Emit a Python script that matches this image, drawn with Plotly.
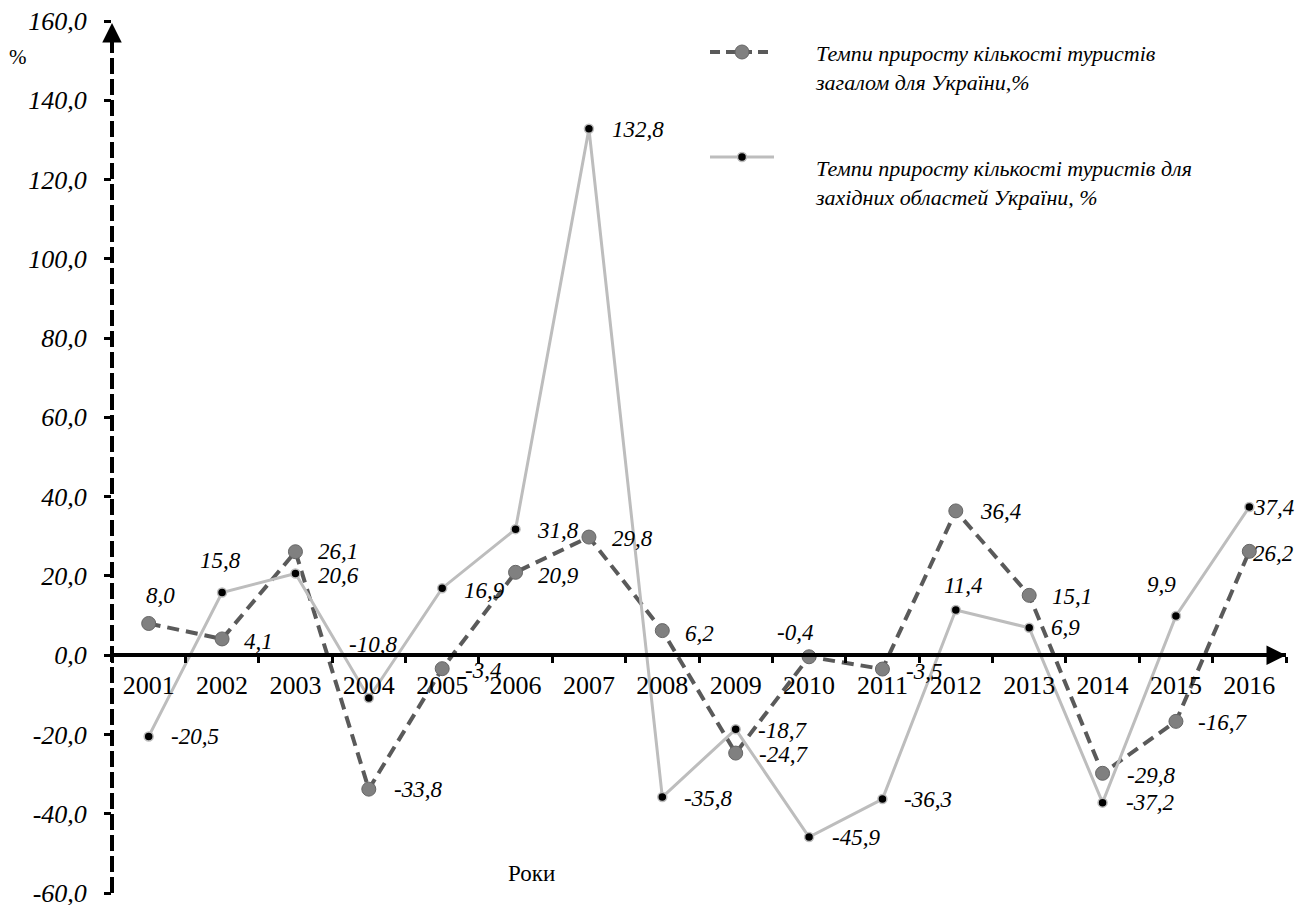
import plotly.graph_objects as go

# ---------------- data ----------------
years = ["2001", "2002", "2003", "2004", "2005", "2006", "2007", "2008",
         "2009", "2010", "2011", "2012", "2013", "2014", "2015", "2016"]
ukraine_total = [8.0, 4.1, 26.1, -33.8, -3.4, 20.9, 29.8, 6.2,
                 -24.7, -0.4, -3.5, 36.4, 15.1, -29.8, -16.7, 26.2]
western_regions = [-20.5, 15.8, 20.6, -10.8, 16.9, 31.8, 132.8, -35.8,
                   -18.7, -45.9, -36.3, 11.4, 6.9, -37.2, 9.9, 37.4]
y_ticks = [-60, -40, -20, 0, 20, 40, 60, 80, 100, 120, 140, 160]
name_total = "Темпи приросту кількості туристів<br>загалом для України,%"
name_west = "Темпи приросту кількості туристів для<br>західних областей України, %"
y_title = "%"
x_title = "Роки"

# ---------------- label offsets (pixels: dx right, dy down) ----------------
off_total = [(12, -28), (36, 3), (43, 0), (49, 0), (41, 2), (43, 3), (44, 1), (37, 3),
             (48, 1), (-14, -24), (42, 2), (45, 1), (43, 1), (48, 2), (47, 1), (24, 2)]
off_west = [(46, 0), (-2, -32), (43, 2), (4, -53), (42, 2), (42, 1), (49, 1), (46, 1),
            (47, 1), (47, 0), (46, 0), (8, -25), (36, 0), (47, 0), (-14, -31), (24, 1)]

SERIF = "Liberation Serif"
# page body has an 8px default margin; compensate so the plot lands where intended
BODY = 8
W, H = 1311 - BODY, 905 - BODY
ML, MR, MT, MB = 112 - BODY, 25, 21 - BODY, 12
YMIN, YMAX = -60, 160


def fmt(v):
    return f"{v:.1f}".replace(".", ",")


def px_x(px):
    return (px - BODY - ML) / (W - ML - MR)


def px_y(py):
    return 1 - (py - BODY - MT) / (H - MT - MB)


DARK_LINE = "#5a5a5a"
DARK_FILL = "#808080"
LIGHT_LINE = "#bdbdbd"

fig = go.Figure()

fig.add_trace(go.Scatter(
    x=years, y=ukraine_total, mode="lines+markers", name=name_total,
    line=dict(color=DARK_LINE, width=4, dash="12px,7px"),
    marker=dict(size=14, color=DARK_FILL, line=dict(color="#666666", width=1)),
    showlegend=False, cliponaxis=False,
))
fig.add_trace(go.Scatter(
    x=years, y=western_regions, mode="lines+markers", name=name_west,
    line=dict(color=LIGHT_LINE, width=3),
    marker=dict(size=9, color="black", line=dict(color=LIGHT_LINE, width=1.5)),
    showlegend=False, cliponaxis=False,
))

annotations = []
label_font = dict(family=SERIF, size=23, color="black", style="italic")
for vals, offs in ((ukraine_total, off_total), (western_regions, off_west)):
    for i, (v, (dx, dy)) in enumerate(zip(vals, offs)):
        annotations.append(dict(
            x=i, y=v, xref="x", yref="y", text=fmt(v), showarrow=False,
            xanchor="center", yanchor="middle", xshift=dx, yshift=-dy,
            font=label_font,
        ))

# axis arrows
annotations.append(dict(
    x=15.5, y=0, xref="x", yref="y", ax=-22, ay=0,
    showarrow=True, arrowhead=2, arrowsize=1.3, arrowwidth=3, arrowcolor="black", text="",
))
annotations.append(dict(
    x=0, y=YMAX - 0.5, xref="paper", yref="y", ax=0, ay=14,
    showarrow=True, arrowhead=2, arrowsize=1.3, arrowwidth=3, arrowcolor="black", text="",
))

# axis titles
annotations.append(dict(
    x=px_x(18), y=px_y(57), xref="paper", yref="paper", text=y_title, showarrow=False,
    xanchor="center", yanchor="middle", font=dict(family=SERIF, size=21, color="black"),
))
annotations.append(dict(
    x=px_x(531), y=px_y(873), xref="paper", yref="paper", text=x_title, showarrow=False,
    xanchor="center", yanchor="middle", font=dict(family=SERIF, size=23, color="black"),
))

# manual legend text
leg_font = dict(family=SERIF, size=22, color="black", style="italic")
annotations.append(dict(
    x=px_x(813), y=px_y(68), xref="paper", yref="paper", text=name_total, showarrow=False,
    xanchor="left", yanchor="middle", align="left", font=leg_font,
))
annotations.append(dict(
    x=px_x(813), y=px_y(183), xref="paper", yref="paper", text=name_west, showarrow=False,
    xanchor="left", yanchor="middle", align="left", font=leg_font,
))

shapes = [
    # dashed y axis line
    dict(type="line", xref="paper", yref="y", x0=0, x1=0, y0=YMIN, y1=YMAX - 4,
         line=dict(color="black", width=4, dash="16px,5px")),
    # legend symbol 1
    dict(type="line", xref="paper", yref="paper", x0=px_x(710), x1=px_x(774),
         y0=px_y(52), y1=px_y(52), line=dict(color=DARK_LINE, width=4, dash="10px,6px")),
    dict(type="circle", xref="paper", yref="paper", xsizemode="pixel", ysizemode="pixel",
         xanchor=px_x(742), yanchor=px_y(52), x0=-7, x1=7, y0=-7, y1=7,
         fillcolor=DARK_FILL, line=dict(color="#666666", width=1)),
    # legend symbol 2
    dict(type="line", xref="paper", yref="paper", x0=px_x(710), x1=px_x(774),
         y0=px_y(157), y1=px_y(157), line=dict(color=LIGHT_LINE, width=3)),
    dict(type="circle", xref="paper", yref="paper", xsizemode="pixel", ysizemode="pixel",
         xanchor=px_x(742), yanchor=px_y(157), x0=-4.5, x1=4.5, y0=-4.5, y1=4.5,
         fillcolor="black", line=dict(color=LIGHT_LINE, width=1.5)),
]

fig.update_layout(
    width=W, height=H,
    margin=dict(l=ML, r=MR, t=MT, b=MB, pad=0, autoexpand=False),
    paper_bgcolor="white", plot_bgcolor="white",
    showlegend=False,
    annotations=annotations,
    shapes=shapes,
    xaxis=dict(
        type="category", categoryorder="array", categoryarray=years,
        range=[-0.5, 15.5], anchor="free", position=(0 - YMIN) / (YMAX - YMIN),
        showline=True, linecolor="black", linewidth=4,
        ticks="outside", tickson="boundaries", ticklen=6, tickwidth=3, tickcolor="black",
        tickfont=dict(family=SERIF, size=26, color="black"),
        ticklabelstandoff=6, automargin=False,
        showgrid=False, zeroline=False, fixedrange=True,
    ),
    yaxis=dict(
        range=[YMIN, YMAX], tickmode="array", tickvals=y_ticks,
        ticktext=[fmt(v) for v in y_ticks],
        showline=False, ticks="outside", ticklen=7, tickwidth=3, tickcolor="black",
        tickfont=dict(family=SERIF, size=26, color="black", style="italic"),
        ticklabelstandoff=12, ticklabeloverflow="allow", automargin=False,
        showgrid=False, zeroline=False, fixedrange=True,
    ),
)

fig.write_html("out.html")
